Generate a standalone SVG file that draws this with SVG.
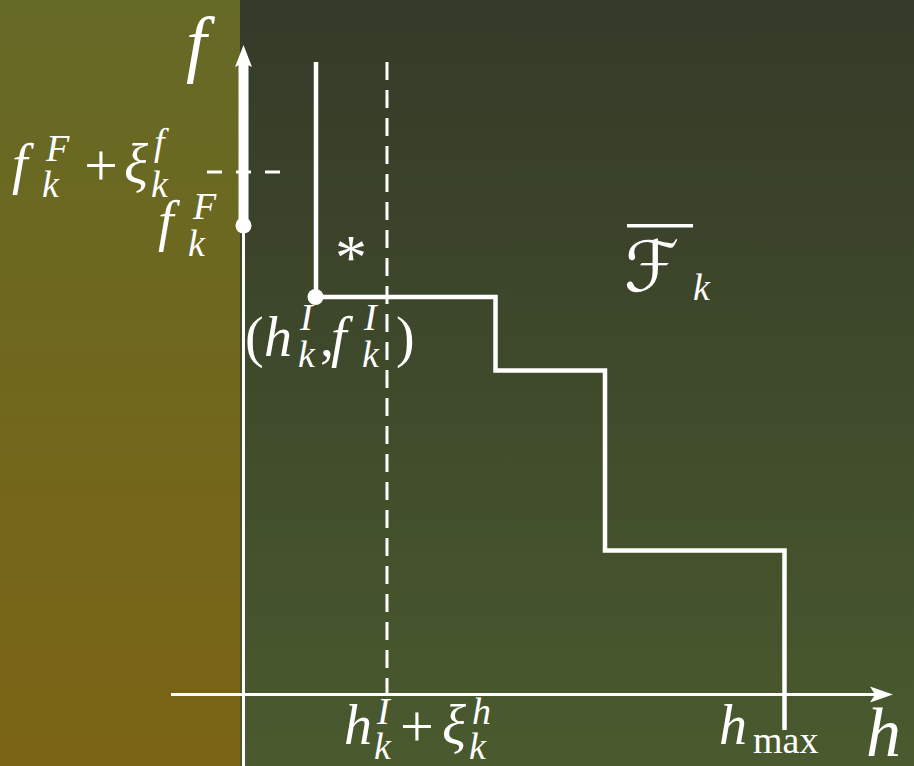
<svg xmlns="http://www.w3.org/2000/svg" width="914" height="766" viewBox="0 0 914 766">
<defs>
<linearGradient id="gL" x1="0" y1="0" x2="0" y2="1"><stop offset="0" stop-color="#656a26"/><stop offset="1" stop-color="#7b6414"/></linearGradient>
<linearGradient id="gR" x1="0" y1="0" x2="0" y2="1"><stop offset="0" stop-color="#343a28"/><stop offset="1" stop-color="#4a5a2e"/></linearGradient>
<style>
.ln{stroke:#fff;stroke-width:4.5;fill:none}
.ax{stroke:#fff;stroke-width:3;fill:none}
.dv{stroke:#fff;stroke-width:3;fill:none;stroke-dasharray:18 10}
.dh{stroke:#fff;stroke-width:3;fill:none;stroke-dasharray:15 14}
text{fill:#fff;font-family:"Liberation Serif","DejaVu Serif",serif;font-style:italic}
.m{font-size:56px}
.s{font-size:38px}
.p{font-size:60px;font-style:normal}
.r{font-style:normal}
</style>
</defs>
<rect x="0" y="0" width="240" height="766" fill="url(#gL)"/>
<rect x="240" y="0" width="674" height="766" fill="url(#gR)"/>
<g id="connectors">
<line class="ax" x1="243.5" y1="225" x2="243.5" y2="766"/>
<line x1="243.5" y1="225" x2="243.5" y2="62" stroke="#fff" stroke-width="10"/>
<polygon points="243.5,45 252,67 243.5,63 235,67" fill="#fff"/>
<line class="ax" x1="171" y1="694.5" x2="878" y2="694.5"/>
<polygon points="893,694.5 870,686.5 875,694.5 870,702.5" fill="#fff"/>
<line class="dh" x1="207" y1="172" x2="280" y2="172"/>
<line class="dv" x1="387" y1="62" x2="387" y2="694"/>
<polyline class="ln" points="316,62 316,297 495.5,297 495.5,370.5 605,370.5 605,550.5 784.5,550.5 784.5,730"/>
<circle cx="243.5" cy="225.5" r="8" fill="#fff"/>
<circle cx="315.5" cy="297" r="8" fill="#fff"/>
<rect x="627" y="224" width="66" height="3.5" fill="#fff"/>
</g>
<g id="label-f"><text x="186" y="68" font-size="74">f</text></g>
<g id="label-h"><text x="866" y="756" font-size="70">h</text></g>
<g id="label-fF-xi">
<text class="m" x="12" y="183">f</text>
<text class="s" x="46" y="161">F</text>
<text class="s" x="42" y="197">k</text>
<text class="p" x="84" y="185">+</text>
<text class="m" x="124" y="183">ξ</text>
<text class="s" x="154" y="155">f</text>
<text class="s" x="151" y="197">k</text>
</g>
<g id="label-fF">
<text class="m" x="158" y="240">f</text>
<text class="s" x="193" y="219">F</text>
<text class="s" x="188" y="256">k</text>
</g>
<g id="label-star"><text x="335" y="279" font-size="64" class="r">*</text></g>
<g id="label-point">
<text class="m r" x="245" y="356">(</text>
<text class="m" x="264" y="356">h</text>
<text class="s" x="300" y="330">I</text>
<text class="s" x="298" y="367">k</text>
<text class="m r" x="320" y="356">,</text>
<text class="m" x="331" y="356">f</text>
<text class="s" x="364" y="330">I</text>
<text class="s" x="362" y="367">k</text>
<text class="m r" x="396" y="356">)</text>
</g>
<g id="label-Fk">
<text x="624" y="291" font-size="70" style="font-family:'DejaVu Serif','DejaVu Sans',serif">ℱ</text>
<text class="s" x="693" y="300">k</text>
</g>
<g id="label-hxi">
<text class="m" x="344" y="744">h</text>
<text class="s" x="377" y="724">I</text>
<text class="s" x="374" y="759">k</text>
<text class="p" x="400" y="746">+</text>
<text class="m" x="442" y="744">ξ</text>
<text class="s" x="472" y="724">h</text>
<text class="s" x="469" y="759">k</text>
</g>
<g id="label-hmax">
<text class="m" x="719" y="744">h</text>
<text class="s r" x="753" y="753">max</text>
</g>
</svg>
